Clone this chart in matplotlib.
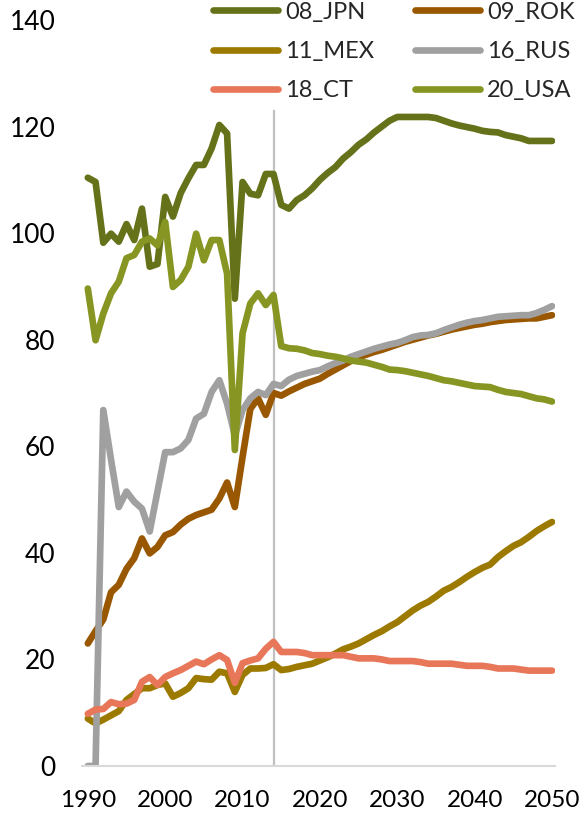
import numpy as np
import matplotlib
matplotlib.use('Agg')
import matplotlib.pyplot as plt

plt.rcParams['font.family'] = ['Lato', 'DejaVu Sans']

years = np.arange(1990, 2051)

jpn = [110.4, 109.6, 98.2, 99.9, 98.4, 101.7, 98.7, 104.6, 93.7, 94.2,
       106.8, 103.1, 107.5, 110.3, 112.8, 112.8, 115.9, 120.3, 118.7, 87.7,
       109.6, 107.4, 107.1, 111.1, 111.1, 105.3, 104.6, 106.2, 107.1, 108.4,
       110.0, 111.3, 112.4, 114.0, 115.2, 116.6, 117.6, 118.9, 120.0, 121.1,
       121.8, 121.8, 121.8, 121.8, 121.8, 121.6, 121.1, 120.6, 120.2, 119.9,
       119.6, 119.2, 119.0, 118.9, 118.4, 118.1, 117.8, 117.3, 117.3, 117.3,
       117.3]
rok = [23.0, 25.3, 27.5, 32.6, 34.0, 37.0, 39.0, 42.7, 39.9, 41.1,
       43.3, 43.9, 45.3, 46.4, 47.1, 47.6, 48.1, 50.2, 53.2, 48.6,
       58.0, 67.0, 69.0, 65.9, 70.0, 69.5, 70.3, 71.0, 71.7, 72.2,
       72.7, 73.6, 74.4, 75.2, 76.0, 76.7, 77.2, 77.7, 78.1, 78.6,
       79.1, 79.6, 80.0, 80.4, 80.8, 81.1, 81.5, 81.9, 82.2, 82.5,
       82.8, 83.0, 83.3, 83.5, 83.7, 83.8, 83.9, 84.0, 84.0, 84.3,
       84.6]
mex = [8.9, 8.0, 8.7, 9.5, 10.3, 12.4, 13.5, 14.6, 14.6, 15.2,
       15.5, 13.0, 13.7, 14.6, 16.5, 16.3, 16.2, 17.7, 17.4, 13.9,
       17.1, 18.3, 18.3, 18.4, 19.1, 18.0, 18.2, 18.6, 18.9, 19.2,
       19.8, 20.4, 21.1, 21.9, 22.4, 23.0, 23.8, 24.6, 25.3, 26.2,
       27.0, 28.1, 29.2, 30.1, 30.8, 31.8, 32.9, 33.6, 34.5, 35.5,
       36.4, 37.2, 37.8, 39.2, 40.3, 41.3, 42.0, 43.0, 44.1, 45.0,
       45.8]
rus = [0.0, 0.0, 66.8, 57.5, 48.6, 51.5, 49.6, 48.3, 44.0, 51.5,
       58.9, 58.9, 59.6, 61.2, 65.2, 66.1, 70.2, 72.4, 68.0, 62.0,
       66.8, 69.0, 70.2, 69.6, 71.7, 71.3, 72.5, 73.2, 73.6, 74.0,
       74.3, 75.0, 75.6, 76.1, 76.8, 77.3, 77.8, 78.3, 78.7, 79.1,
       79.4, 79.9, 80.5, 80.8, 80.9, 81.2, 81.8, 82.3, 82.8, 83.2,
       83.5, 83.7, 84.0, 84.3, 84.4, 84.5, 84.6, 84.6, 85.0, 85.6,
       86.3]
ct = [9.8, 10.6, 10.7, 12.0, 11.6, 11.7, 12.4, 15.8, 16.7, 15.2,
      16.7, 17.4, 18.0, 18.8, 19.6, 19.1, 20.0, 20.8, 19.9, 15.6,
      19.3, 19.8, 20.2, 22.0, 23.3, 21.4, 21.4, 21.4, 21.2, 20.8,
      20.8, 20.8, 20.8, 20.8, 20.5, 20.2, 20.2, 20.2, 20.0, 19.7,
      19.7, 19.7, 19.7, 19.5, 19.2, 19.2, 19.2, 19.2, 19.0, 18.8,
      18.8, 18.8, 18.6, 18.3, 18.3, 18.3, 18.1, 17.9, 17.9, 17.9,
      17.9]
usa = [89.6, 79.9, 84.9, 88.7, 90.9, 95.3, 95.9, 98.4, 99.0, 97.7,
       102.1, 89.9, 91.2, 93.7, 99.9, 94.9, 98.7, 98.7, 92.4, 59.3,
       81.2, 86.8, 88.7, 86.5, 88.4, 78.8, 78.4, 78.3, 78.0, 77.5,
       77.3, 77.0, 76.8, 76.5, 76.1, 75.9, 75.7, 75.3, 74.9, 74.4,
       74.3, 74.1, 73.8, 73.5, 73.2, 72.8, 72.4, 72.2, 71.9, 71.6,
       71.3, 71.2, 71.1, 70.6, 70.2, 70.0, 69.8, 69.4, 69.0, 68.8,
       68.4]

labels = ['08_JPN', '09_ROK', '11_MEX', '16_RUS', '18_CT', '20_USA']
colors = ['#66721a', '#995700', '#9c7a00', '#a0a0a0', '#e8775a', '#879622']
series = [jpn, rok, mex, rus, ct, usa]

base_year = 2014
x_ticks = [1990, 2000, 2010, 2020, 2030, 2040, 2050]
y_ticks = [0, 20, 40, 60, 80, 100, 120, 140]

fig = plt.figure(figsize=(5.8, 8.19), dpi=100)
ax = fig.add_axes([0.141, 0.0647, 0.816, 0.9109])

ax.plot([base_year, base_year], [0, 123], color='#c0c0c0', lw=1.6, zorder=1)

lines = []
for vals, col, lab in zip(series, colors, labels):
    ln, = ax.plot(years, vals, color=col, lw=4.8, label=lab,
                  solid_capstyle='round', solid_joinstyle='round', zorder=2)
    lines.append(ln)

ax.set_xlim(1989.22, 2050.39)
ax.set_ylim(0, 140)
ax.set_xticks(x_ticks)
ax.set_yticks(y_ticks)
ax.tick_params(axis='both', length=0, colors='#000000')
ax.tick_params(axis='y', pad=19, labelsize=19)
ax.tick_params(axis='x', pad=17, labelsize=17.5)

for side in ['top', 'right', 'left']:
    ax.spines[side].set_visible(False)
ax.spines['bottom'].set_color('#d9d9d9')
ax.spines['bottom'].set_linewidth(1.5)

# legend fills columns first, so reorder to read row by row
order = [0, 2, 4, 1, 3, 5]
leg = fig.legend(handles=[lines[i] for i in order], loc='upper left', ncol=2,
                 bbox_to_anchor=(0.367, 0.998), frameon=False, fontsize=17,
                 handlelength=2.75, handletextpad=0.3, columnspacing=1.75,
                 labelspacing=0.78, borderpad=0, borderaxespad=0)
for t in leg.get_texts():
    t.set_color('#262626')

fig.savefig('out.png', dpi=100)
